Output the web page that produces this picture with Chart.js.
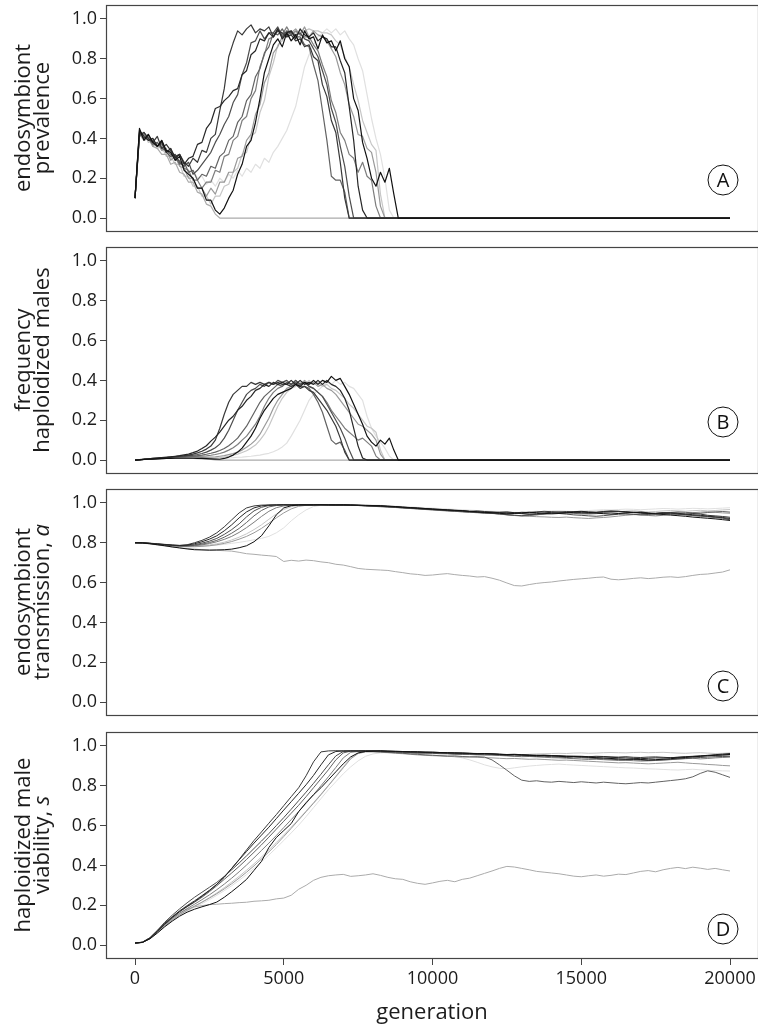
<!DOCTYPE html>
<html>
<head>
<meta charset="utf-8">
<script src="https://cdn.jsdelivr.net/npm/chart.js@4.4.1/dist/chart.umd.min.js"></script>
<style>
  html, body { margin: 0; padding: 0; background: #ffffff; overflow: hidden; }
  #wrap { position: relative; width: 758px; height: 1026px; }
  canvas { position: absolute; left: 0; display: block; }
</style>
</head>
<body>
<div id="wrap">
  <canvas id="panelA" width="758" height="242" style="top:0px"></canvas>
  <canvas id="panelB" width="758" height="242" style="top:242px"></canvas>
  <canvas id="panelC" width="758" height="242" style="top:484px"></canvas>
  <canvas id="panelD" width="758" height="299" style="top:727px"></canvas>
</div>
<script>
// ---- sampling of the simulation output ----
const GEN_STEP_AB = 150;   // prevalence / haploidized-male frequency sampled every 150 generations
const GEN_STEP_CD = 250;   // trait values sampled every 250 generations
const FINAL_GEN = 20000;

// one colour per replicate run (darkest drawn on top)
const runColors = ['#111111', '#262626', '#383838', '#4d4d4d', '#626262',
                   '#7d7d7d', '#999999', '#ababab', '#c6c6c6', '#e0e0e0'];

// endosymbiont prevalence, until the endosymbiont is lost
const prevalence = [
  [.10,.45,.39,.42,.38,.36,.39,.34,.33,.29,.31,.24,.22,.20,.15,.15,.09,.09,.04,.02,.05,.10,.14,.22,.27,.36,.39,.48,.60,.73,.80,.87,.90,.86,.93,.89,.92,.87,.94,.90,.91,.85,.92,.88,.89,.84,.89,.80,.76,.60,.54,.38,.30,.20,.16,.23,.18,.25,.12,0],
  [.10,.44,.41,.39,.40,.36,.38,.33,.35,.30,.32,.27,.30,.31,.37,.38,.45,.48,.55,.56,.59,.61,.64,.65,.72,.74,.82,.84,.90,.89,.93,.91,.95,.90,.93,.94,.90,.95,.92,.91,.93,.89,.91,.90,.86,.86,.79,.73,.56,.39,.16,.04,0],
  [.10,.42,.43,.40,.38,.41,.35,.37,.34,.31,.32,.28,.26,.30,.28,.34,.33,.40,.42,.54,.65,.81,.88,.94,.92,.95,.97,.93,.95,.94,.96,.91,.94,.93,.91,.92,.89,.90,.86,.87,.81,.79,.67,.61,.49,.43,.28,.10,0],
  [.10,.43,.40,.42,.38,.36,.39,.33,.31,.32,.28,.26,.28,.22,.24,.27,.30,.33,.38,.42,.47,.51,.58,.62,.72,.78,.88,.89,.94,.90,.93,.93,.96,.91,.94,.93,.92,.93,.90,.89,.85,.81,.74,.67,.55,.48,.36,.26,.11,0],
  [.10,.41,.43,.40,.37,.38,.35,.34,.32,.31,.27,.28,.23,.24,.19,.22,.21,.26,.25,.31,.33,.39,.41,.48,.51,.59,.62,.71,.75,.83,.86,.93,.92,.95,.91,.94,.91,.91,.87,.86,.77,.69,.54,.39,.21,.19,.19,.13,0],
  [.10,.43,.42,.39,.39,.36,.37,.33,.34,.29,.29,.25,.24,.19,.19,.15,.18,.18,.24,.23,.31,.32,.39,.41,.49,.51,.60,.64,.76,.82,.90,.91,.95,.92,.96,.92,.94,.92,.91,.91,.87,.84,.77,.71,.59,.53,.43,.39,.32,.30,.23,.28,.21,.19,.06,0],
  [.10,.42,.40,.41,.36,.38,.34,.35,.29,.31,.26,.25,.20,.20,.15,.15,.11,.15,.12,.18,.18,.23,.23,.30,.31,.39,.42,.52,.57,.68,.73,.83,.86,.91,.92,.93,.95,.92,.96,.91,.94,.92,.91,.89,.85,.81,.73,.67,.57,.51,.42,.41,.35,.33,.23,.06,0],
  [.10,.42,.39,.40,.36,.35,.32,.32,.27,.28,.23,.22,.18,.18,.13,.12,.07,.06,.02,0],
  [.10,.41,.43,.38,.39,.35,.36,.31,.31,.27,.27,.21,.21,.16,.16,.11,.11,.07,.11,.11,.16,.17,.23,.25,.32,.33,.41,.43,.53,.59,.71,.78,.87,.89,.93,.93,.93,.94,.94,.95,.94,.94,.93,.93,.92,.89,.87,.81,.76,.67,.59,.49,.43,.37,.34,.12,0],
  [.10,.42,.40,.41,.37,.38,.34,.33,.30,.31,.27,.26,.23,.24,.20,.21,.17,.19,.16,.20,.18,.22,.20,.24,.21,.25,.23,.27,.25,.30,.28,.33,.36,.40,.44,.50,.56,.66,.76,.82,.87,.91,.93,.95,.93,.95,.92,.94,.90,.87,.80,.74,.62,.50,.40,.32,.20,.04,0]
];

// frequency of haploidized males, same sampling as prevalence
const haploidFreq = [
  [0,.001,.003,.004,.005,.006,.007,.008,.008,.009,.009,.009,.009,.009,.008,.008,.007,.006,.005,.004,.008,.015,.025,.040,.060,.090,.12,.16,.21,.25,.28,.31,.33,.34,.35,.36,.38,.37,.39,.38,.40,.38,.40,.39,.42,.40,.41,.37,.33,.28,.23,.18,.12,.09,.07,.10,.08,.11,.05,0],
  [0,.002,.004,.006,.008,.010,.012,.014,.016,.019,.022,.026,.030,.037,.045,.058,.072,.095,.115,.14,.17,.20,.22,.25,.27,.30,.32,.35,.36,.38,.37,.39,.38,.39,.38,.40,.38,.40,.38,.39,.38,.40,.38,.40,.38,.37,.35,.31,.25,.16,.07,.01,0],
  [0,.002,.004,.006,.008,.010,.012,.014,.016,.018,.020,.022,.025,.030,.036,.044,.055,.070,.10,.16,.23,.29,.33,.35,.37,.37,.39,.38,.39,.38,.39,.38,.39,.38,.38,.37,.38,.36,.37,.35,.34,.31,.28,.25,.21,.17,.11,.04,0],
  [0,.002,.003,.005,.007,.009,.011,.012,.014,.016,.018,.020,.022,.024,.028,.033,.040,.050,.062,.080,.11,.15,.20,.25,.29,.33,.35,.36,.38,.37,.39,.38,.40,.39,.40,.38,.40,.38,.39,.37,.36,.34,.32,.28,.24,.20,.16,.11,.05,0],
  [0,.002,.003,.005,.006,.008,.010,.011,.013,.014,.016,.017,.019,.020,.022,.025,.029,.034,.040,.048,.058,.072,.09,.11,.14,.17,.21,.25,.29,.32,.34,.36,.38,.37,.39,.38,.39,.37,.37,.36,.33,.29,.24,.17,.10,.08,.09,.05,0],
  [0,.001,.003,.004,.006,.007,.009,.010,.011,.012,.014,.015,.016,.017,.018,.019,.021,.024,.028,.033,.040,.050,.062,.078,.10,.12,.15,.18,.22,.27,.31,.34,.36,.37,.39,.38,.40,.38,.39,.37,.36,.34,.32,.29,.25,.22,.19,.16,.14,.12,.10,.11,.09,.07,.02,0],
  [0,.001,.003,.004,.005,.007,.008,.009,.010,.011,.012,.013,.013,.014,.014,.013,.013,.015,.016,.019,.022,.027,.032,.040,.050,.064,.08,.10,.13,.17,.21,.26,.30,.33,.36,.37,.39,.38,.40,.38,.39,.37,.38,.36,.35,.33,.30,.27,.24,.21,.18,.17,.15,.13,.10,.03,0],
  [0,.001,.003,.004,.005,.006,.007,.008,.008,.009,.009,.009,.009,.008,.007,.006,.005,.003,.001,0],
  [0,.001,.003,.004,.005,.006,.007,.008,.009,.010,.010,.011,.011,.011,.011,.010,.009,.009,.010,.012,.015,.019,.024,.030,.038,.047,.060,.075,.10,.13,.17,.22,.27,.31,.34,.36,.37,.39,.38,.40,.38,.39,.37,.38,.36,.35,.33,.31,.28,.26,.23,.20,.17,.16,.14,.05,0],
  [0,.001,.002,.004,.005,.006,.007,.008,.008,.009,.009,.009,.009,.009,.008,.008,.008,.008,.008,.009,.010,.011,.012,.014,.015,.017,.019,.022,.025,.030,.034,.042,.052,.066,.085,.12,.16,.20,.25,.30,.33,.35,.37,.39,.38,.40,.38,.39,.37,.36,.33,.30,.22,.16,.12,.09,.06,.02,0]
];

// endosymbiont transmission a, every 250 generations from 0 to 20000
const transmission = [
  [.800,.799,.795,.790,.785,.779,.774,.769, .765,.764,.763,.764,.765,.768,.775,.785,
   .805,.835,.885,.940,.975,.986,.990,.990, .990,.991,.990,.990,.991,.990,.989,.988,
   .987,.986,.984,.982,.979,.977,.974,.972, .969,.967,.965,.963,.961,.958,.956,.953,
   .951,.948,.945,.947,.950,.953,.951,.948, .945,.947,.950,.953,.955,.952,.949,.946,
   .944,.947,.950,.953,.951,.948,.945,.942, .939,.936,.933,.929,.926,.923,.920,.916, .912],
  [.800,.800,.797,.794,.791,.788,.786,.788, .795,.805,.818,.835,.860,.890,.925,.955,
   .975,.985,.989,.990,.991,.990,.990,.991, .990,.991,.990,.990,.989,.989,.988,.986,
   .985,.984,.982,.980,.977,.975,.973,.970, .968,.966,.964,.962,.960,.957,.954,.952,
   .950,.953,.955,.951,.947,.944,.946,.950, .953,.955,.952,.956,.958,.955,.953,.957,
   .960,.958,.956,.953,.951,.948,.945,.947, .950,.948,.944,.941,.938,.934,.930,.927, .922],
  [.800,.800,.798,.795,.792,.789,.787,.790, .800,.812,.828,.850,.880,.915,.950,.975,
   .985,.989,.990,.990,.991,.990,.991,.990, .991,.990,.991,.990,.990,.989,.988,.987,
   .986,.985,.983,.981,.979,.976,.975,.972, .970,.968,.965,.963,.962,.958,.960,.957,
   .955,.952,.948,.950,.953,.951,.955,.958, .956,.953,.957,.955,.951,.949,.952,.955,
   .957,.958,.954,.952,.955,.950,.948,.952, .949,.945,.943,.947,.944,.938,.935,.932, .928],
  [.800,.800,.797,.793,.790,.787,.785,.786, .790,.798,.808,.822,.842,.866,.895,.930,
   .960,.978,.987,.990,.990,.991,.990,.990, .991,.990,.990,.990,.989,.988,.987,.986,
   .984,.983,.981,.978,.976,.973,.971,.968, .966,.964,.961,.959,.957,.955,.953,.950,
   .948,.945,.941,.938,.936,.939,.943,.946, .949,.947,.944,.940,.938,.935,.933,.936,
   .940,.943,.945,.943,.940,.942,.945,.948, .946,.943,.940,.937,.935,.932,.929,.925, .915],
  [.800,.799,.797,.793,.789,.786,.784,.784, .787,.793,.801,.812,.828,.848,.872,.902,
   .935,.962,.980,.987,.990,.990,.991,.990, .990,.991,.990,.989,.989,.988,.987,.985,
   .983,.981,.979,.977,.975,.972,.970,.967, .965,.962,.960,.958,.955,.953,.951,.949,
   .947,.950,.952,.949,.946,.943,.941,.944, .947,.949,.951,.948,.945,.947,.950,.953,
   .955,.957,.954,.951,.948,.945,.947,.950, .952,.955,.953,.950,.948,.952,.955,.957, .954],
  [.800,.799,.796,.792,.789,.786,.784,.783, .785,.789,.796,.805,.817,.832,.852,.876,
   .903,.932,.958,.976,.985,.989,.990,.991, .990,.990,.991,.990,.989,.989,.988,.986,
   .985,.983,.980,.978,.975,.973,.971,.969, .967,.965,.963,.960,.957,.955,.952,.950,
   .948,.944,.940,.937,.934,.936,.940,.944, .947,.951,.953,.950,.947,.944,.946,.949,
   .951,.948,.945,.942,.940,.937,.935,.938, .942,.945,.941,.937,.933,.930,.926,.922, .918],
  [.800,.799,.796,.792,.788,.784,.782,.780, .780,.782,.785,.790,.797,.806,.818,.832,
   .850,.872,.898,.925,.950,.970,.983,.988, .990,.990,.991,.990,.990,.989,.988,.987,
   .986,.984,.982,.979,.977,.974,.972,.970, .968,.965,.962,.960,.958,.956,.953,.950,
   .947,.944,.941,.938,.936,.933,.931,.930, .928,.927,.929,.926,.924,.922,.925,.927,
   .930,.934,.938,.941,.943,.946,.948,.951, .953,.951,.948,.951,.954,.956,.953,.950, .948],
  [.800,.798,.794,.789,.784,.779,.775,.771, .768,.765,.763,.762,.760,.758,.752,.745,
   .742,.738,.735,.731,.706,.712,.708,.713, .710,.704,.700,.692,.688,.680,.671,.667,
   .665,.663,.661,.655,.650,.644,.641,.636, .638,.642,.645,.640,.636,.633,.628,.630,
   .622,.612,.598,.585,.583,.590,.596,.600, .603,.608,.612,.616,.619,.622,.626,.628,
   .617,.614,.617,.621,.624,.620,.623,.627, .629,.626,.630,.636,.641,.643,.648,.653, .664],
  [.800,.799,.796,.792,.788,.785,.783,.781, .782,.785,.789,.795,.803,.814,.828,.845,
   .866,.890,.918,.945,.967,.981,.988,.990, .990,.991,.990,.990,.989,.988,.988,.987,
   .985,.984,.982,.980,.978,.975,.973,.970, .968,.966,.963,.961,.959,.956,.953,.955,
   .957,.955,.952,.950,.953,.956,.958,.956, .953,.950,.948,.951,.954,.956,.958,.960,
   .958,.956,.959,.961,.958,.955,.957,.960, .962,.960,.958,.961,.963,.960,.962,.965, .967],
  [.800,.799,.796,.793,.790,.787,.785,.783, .782,.783,.785,.788,.792,.797,.802,.808,
   .815,.822,.832,.850,.875,.910,.940,.965, .982,.988,.990,.991,.990,.991,.990,.990,
   .989,.988,.986,.984,.982,.980,.978,.976, .974,.972,.970,.968,.966,.964,.962,.960,
   .958,.957,.955,.953,.952,.954,.956,.958, .960,.961,.959,.957,.960,.962,.964,.966,
   .965,.967,.969,.968,.966,.968,.970,.972, .971,.969,.971,.973,.972,.970,.972,.974, .976]
];

// haploidized male viability s, every 250 generations from 0 to 20000
const viability = [
  [.010,.013,.031,.060,.092,.120,.145,.165, .180,.192,.203,.216,.240,.268,.298,.330,
   .375,.420,.490,.540,.575,.610,.670,.715, .755,.790,.830,.870,.910,.945,.965,.972,
   .974,.975,.974,.973,.972,.971,.970,.968, .969,.967,.966,.964,.965,.963,.961,.962,
   .960,.958,.956,.957,.955,.953,.951,.952, .950,.948,.946,.947,.945,.943,.941,.939,
   .937,.935,.933,.934,.932,.930,.931,.933, .936,.939,.942,.945,.948,.951,.953,.955, .957],
  [.010,.014,.034,.068,.105,.138,.168,.194, .218,.245,.273,.305,.342,.385,.428,.470,
   .512,.552,.592,.635,.678,.720,.762,.805, .852,.905,.955,.972,.975,.974,.976,.975,
   .976,.975,.974,.973,.972,.970,.971,.969, .968,.967,.965,.966,.964,.963,.962,.960,
   .961,.959,.957,.958,.956,.955,.953,.954, .952,.951,.949,.947,.948,.946,.944,.945,
   .943,.941,.940,.938,.936,.938,.940,.939, .941,.943,.946,.948,.950,.953,.956,.959, .962],
  [.010,.014,.036,.072,.110,.142,.172,.198, .222,.248,.275,.305,.340,.385,.430,.478,
   .525,.568,.612,.655,.700,.745,.790,.850, .920,.970,.975,.976,.975,.976,.974,.975,
   .974,.975,.973,.972,.971,.970,.968,.969, .967,.965,.966,.964,.962,.961,.960,.962,
   .959,.957,.955,.956,.954,.952,.953,.951, .952,.950,.948,.949,.947,.946,.948,.947,
   .945,.944,.946,.943,.942,.944,.945,.943, .941,.943,.945,.947,.949,.951,.953,.954, .956],
  [.010,.015,.037,.074,.115,.150,.182,.212, .240,.265,.290,.315,.345,.378,.412,.448,
   .485,.522,.560,.600,.640,.682,.725,.768, .812,.858,.905,.950,.972,.975,.974,.976,
   .972,.973,.970,.969,.967,.966,.964,.965, .963,.961,.962,.960,.958,.959,.957,.955,
   .956,.954,.952,.950,.951,.949,.947,.948, .946,.944,.942,.940,.941,.939,.937,.935,
   .933,.931,.930,.932,.929,.927,.928,.930, .932,.935,.937,.940,.942,.944,.946,.947, .948],
  [.010,.014,.035,.070,.108,.140,.168,.192, .215,.240,.268,.298,.330,.362,.395,.430,
   .466,.503,.542,.582,.622,.662,.702,.745, .790,.835,.880,.930,.965,.974,.973,.975,
   .972,.970,.968,.966,.963,.960,.958,.955, .953,.951,.949,.950,.947,.945,.946,.944,
   .930,.905,.878,.850,.828,.822,.825,.820, .818,.822,.819,.816,.820,.817,.814,.818,
   .815,.812,.810,.813,.816,.814,.818,.822, .826,.830,.835,.845,.862,.875,.868,.855, .842],
  [.010,.013,.033,.066,.102,.133,.160,.183, .205,.228,.252,.278,.306,.336,.368,.402,
   .438,.475,.512,.550,.590,.630,.670,.712, .755,.800,.845,.892,.940,.968,.972,.973,
   .973,.972,.970,.968,.969,.967,.965,.963, .964,.962,.960,.958,.959,.957,.955,.956,
   .954,.952,.950,.948,.946,.947,.945,.943, .941,.940,.938,.936,.934,.932,.933,.931,
   .929,.927,.928,.926,.924,.925,.927,.929, .931,.934,.936,.938,.935,.937,.940,.942, .944],
  [.010,.013,.032,.063,.097,.126,.152,.174, .195,.215,.236,.258,.282,.308,.336,.366,
   .398,.432,.468,.505,.545,.586,.628,.670, .712,.755,.800,.845,.890,.935,.962,.970,
   .970,.968,.966,.963,.961,.958,.955,.953, .951,.950,.948,.946,.944,.945,.943,.941,
   .940,.938,.936,.937,.935,.933,.934,.932, .930,.928,.929,.927,.925,.923,.921,.919,
   .917,.915,.916,.914,.912,.910,.912,.914, .916,.918,.915,.912,.910,.907,.905,.902, .900],
  [.010,.014,.034,.068,.105,.135,.160,.180, .192,.198,.203,.205,.208,.210,.213,.215,
   .220,.222,.225,.232,.236,.250,.280,.300, .325,.340,.348,.352,.355,.345,.348,.352,
   .358,.350,.340,.333,.330,.318,.310,.305, .312,.320,.325,.318,.330,.336,.348,.360,
   .372,.385,.395,.392,.385,.378,.370,.366, .362,.358,.352,.346,.343,.348,.352,.346,
   .350,.356,.354,.362,.370,.374,.368,.378, .385,.390,.384,.391,.386,.380,.385,.378, .372],
  [.010,.013,.032,.064,.098,.128,.154,.176, .196,.216,.238,.262,.288,.316,.345,.376,
   .408,.442,.478,.515,.553,.592,.632,.673, .715,.758,.802,.848,.895,.940,.965,.972,
   .972,.973,.972,.971,.970,.969,.968,.966, .965,.963,.962,.960,.961,.959,.957,.958,
   .956,.955,.957,.958,.956,.958,.960,.961, .962,.963,.962,.964,.965,.963,.964,.966,
   .967,.966,.965,.967,.968,.966,.967,.968, .966,.964,.963,.965,.966,.964,.962,.963, .965],
  [.010,.013,.031,.061,.094,.123,.148,.170, .190,.208,.228,.250,.273,.298,.325,.354,
   .385,.418,.452,.488,.525,.563,.602,.645, .690,.735,.780,.820,.860,.895,.925,.948,
   .960,.965,.967,.966,.965,.963,.960,.958, .955,.952,.950,.946,.940,.930,.918,.905,
   .895,.888,.885,.890,.895,.899,.902,.905, .907,.909,.906,.904,.902,.900,.898,.896,
   .894,.892,.890,.889,.887,.885,.884,.882, .880,.879,.881,.883,.880,.878,.876,.875, .874]
];

// axes
const genTicks = [0, 5000, 10000, 15000, 20000];
const valueTicks = [0, 0.2, 0.4, 0.6, 0.8, 1.0];
const GEN_MIN = -975, GEN_MAX = 20941;
const VALUE_MIN = -0.065, VALUE_MAX = 1.07;

// axis titles; second element of each piece marks italic text
const yTitles = [
  [[['endosymbiont', false]], [['prevalence', false]]],
  [[['frequency', false]], [['haploidized males', false]]],
  [[['endosymbiont', false]], [['transmission, ', false], ['a', true]]],
  [[['haploidized male', false]], [['viability, ', false], ['s', true]]]
];
const panelLetters = ['A', 'B', 'C', 'D'];

const FONT = "'Open Sans', 'DejaVu Sans', sans-serif";
const INK = '#1c1c1c';
const FRAME = '#454545';

function seriesAB(values) {
  const pts = values.map((v, i) => ({ x: i * GEN_STEP_AB, y: v }));
  // after extinction the value stays at zero up to the last generation
  pts.push({ x: FINAL_GEN, y: values[values.length - 1] });
  return pts;
}
function seriesCD(values) {
  return values.map((v, i) => ({ x: i * GEN_STEP_CD, y: v }));
}

const framePlugin = {
  id: 'panelFrame',
  afterDatasetsDraw(chart, args, opts) {
    const { ctx, chartArea: a } = chart;
    ctx.save();
    ctx.strokeStyle = FRAME;
    ctx.lineWidth = 1.2;
    ctx.strokeRect(a.left + 0.5, a.top + 0.5, a.right - a.left, a.bottom - a.top);
    // circled panel letter
    const cx = a.right - 35, cy = a.bottom - opts.letterRise;
    ctx.beginPath();
    ctx.arc(cx, cy, 15, 0, Math.PI * 2);
    ctx.strokeStyle = '#111';
    ctx.lineWidth = 1;
    ctx.stroke();
    ctx.fillStyle = '#111';
    ctx.font = `20px ${FONT}`;
    ctx.textAlign = 'center';
    ctx.textBaseline = 'middle';
    ctx.fillText(opts.letter, cx, cy + 1);
    ctx.restore();
  }
};

const yTitlePlugin = {
  id: 'yTitle',
  afterDraw(chart, args, opts) {
    const { ctx, chartArea: a } = chart;
    const cy = (a.top + a.bottom) / 2;
    ctx.save();
    ctx.translate(0, cy);
    ctx.rotate(-Math.PI / 2);
    ctx.fillStyle = INK;
    ctx.textBaseline = 'alphabetic';
    ctx.textAlign = 'left';
    opts.lines.forEach((pieces, li) => {
      const fontFor = it => `${it ? 'italic ' : ''}22px ${FONT}`;
      let total = 0;
      pieces.forEach(([t, it]) => { ctx.font = fontFor(it); total += ctx.measureText(t).width; });
      let x = -total / 2;
      pieces.forEach(([t, it]) => {
        ctx.font = fontFor(it);
        ctx.fillText(t, x, opts.baselines[li]);
        x += ctx.measureText(t).width;
      });
    });
    ctx.restore();
  }
};

function makePanel(canvasId, idx, data, builder, showX, lineWidth) {
  const datasets = data.map((vals, r) => ({
    data: builder(vals),
    borderColor: runColors[r],
    borderWidth: lineWidth,
    pointRadius: 0,
    tension: 0,
    fill: false,
    borderJoinStyle: 'round'
  }));
  const letterRise = idx < 2 ? 51 : 29;
  return new Chart(document.getElementById(canvasId), {
    type: 'line',
    data: { datasets },
    plugins: [framePlugin, yTitlePlugin],
    options: {
      responsive: false,
      animation: false,
      parsing: false,
      normalized: true,
      layout: { padding: { top: 5, bottom: showX ? 0 : 11, left: 0, right: 0 } },
      plugins: {
        legend: { display: false },
        tooltip: { enabled: false },
        panelFrame: { letter: panelLetters[idx], letterRise },
        yTitle: { lines: yTitles[idx], baselines: [29.5, 48.5] }
      },
      scales: {
        x: {
          type: 'linear',
          min: GEN_MIN,
          max: GEN_MAX,
          display: showX,
          afterBuildTicks: s => { s.ticks = genTicks.map(v => ({ value: v })); },
          ticks: {
            callback: v => String(v),
            font: { family: FONT, size: 18 },
            color: INK,
            padding: 3,
            maxRotation: 0,
            autoSkip: false
          },
          grid: { drawOnChartArea: false, drawTicks: true, tickLength: 7, color: FRAME, lineWidth: 1 },
          border: { display: false },
          title: {
            display: true,
            text: 'generation',
            font: { family: FONT, size: 22 },
            color: INK,
            padding: { top: 0, bottom: 0 }
          },
          afterFit: s => {
            if (!showX) return;
            s.height = 68; s.paddingLeft = 0; s.paddingRight = 0;
          }
        },
        y: {
          type: 'linear',
          min: VALUE_MIN,
          max: VALUE_MAX,
          afterBuildTicks: s => { s.ticks = valueTicks.map(v => ({ value: v })); },
          ticks: {
            callback: v => v.toFixed(1),
            font: { family: FONT, size: 18 },
            color: INK,
            padding: 3,
            autoSkip: false
          },
          grid: { drawOnChartArea: false, drawTicks: true, tickLength: 6, color: FRAME, lineWidth: 1 },
          border: { display: false },
          afterFit: s => { s.width = 106; s.paddingTop = 0; s.paddingBottom = 0; }
        }
      }
    }
  });
}

makePanel('panelA', 0, prevalence, seriesAB, false, 1.2);
makePanel('panelB', 1, haploidFreq, seriesAB, false, 1.2);
makePanel('panelC', 2, transmission, seriesCD, false, 1.0);
makePanel('panelD', 3, viability, seriesCD, true, 1.0);
</script>
</body>
</html>
